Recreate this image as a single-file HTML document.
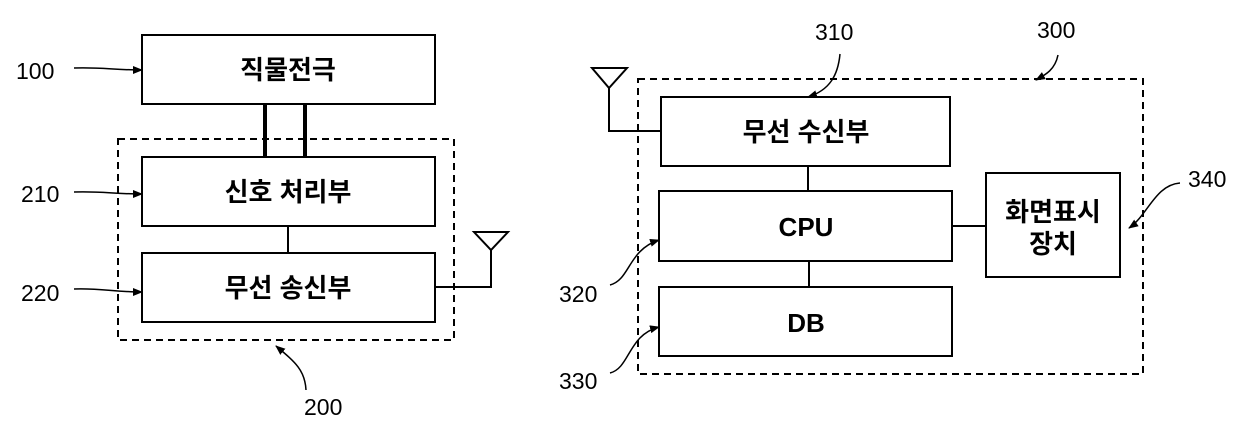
<!DOCTYPE html>
<html><head><meta charset="utf-8"><style>
html,body{margin:0;padding:0;background:#fff;}
svg{display:block;}
.t{font-family:"Liberation Sans","Noto Sans CJK KR",sans-serif;font-weight:bold;font-size:26px;fill:#000;}
.n{font-family:"Liberation Sans","Noto Sans CJK KR",sans-serif;font-size:23px;fill:#000;}
</style></head><body>
<svg width="1239" height="431" viewBox="0 0 1239 431" xmlns="http://www.w3.org/2000/svg">
<defs><marker id="a" markerWidth="10" markerHeight="8" refX="9" refY="4" orient="auto" markerUnits="userSpaceOnUse"><path d="M0,0 L10,4 L0,8 Z" fill="#000"/></marker></defs>
<g fill="none" stroke="#000" stroke-width="2">
<rect x="142" y="35" width="293" height="69"/>
<rect x="142" y="157" width="293" height="69"/>
<rect x="142" y="253" width="293" height="69"/>
<rect x="118" y="139" width="336" height="201" stroke-dasharray="7,5"/>
<line x1="265" y1="104" x2="265" y2="157" stroke-width="4"/>
<line x1="305" y1="104" x2="305" y2="157" stroke-width="4"/>
<line x1="288" y1="226" x2="288" y2="253"/>
<polyline points="435,287 491,287 491,250"/>
<polygon points="474,232 508,232 491,250"/>
<rect x="661" y="97" width="289" height="69"/>
<rect x="659" y="191" width="293" height="70"/>
<rect x="659" y="287" width="293" height="69"/>
<rect x="986" y="173" width="134" height="104"/>
<rect x="638" y="79" width="505" height="295" stroke-dasharray="7,5"/>
<polyline points="609,88 609,131 661,131"/>
<polygon points="592,68 627,68 609,88"/>
<line x1="808" y1="166" x2="808" y2="191"/>
<line x1="809" y1="261" x2="809" y2="287"/>
<line x1="952" y1="226" x2="986" y2="226"/>
<g stroke-width="1.5" marker-end="url(#a)">
<path d="M74,68 C100,67 115,70 142,70"/>
<path d="M74,192 C100,191 115,194 142,194"/>
<path d="M74,289 C100,288 115,292 142,292"/>
<path d="M306,390 C305,370 295,362 276,346"/>
<path d="M840,54 C838,75 830,90 808,97"/>
<path d="M1058,55 C1055,70 1045,75 1036,80"/>
<path d="M1180,183 C1155,185 1148,215 1129,228"/>
<path d="M610,285 C630,280 628,250 659,240"/>
<path d="M610,373 C630,368 628,335 659,327"/>
</g>
</g>
<text class="t" x="288" y="79" text-anchor="middle">직물전극</text>
<text class="t" x="288" y="201" text-anchor="middle">신호 처리부</text>
<text class="t" x="288" y="297" text-anchor="middle">무선 송신부</text>
<text class="t" x="806" y="141" text-anchor="middle">무선 수신부</text>
<text class="t" x="806" y="236" text-anchor="middle">CPU</text>
<text class="t" x="806" y="332" text-anchor="middle">DB</text>
<text class="t" x="1053" y="221" text-anchor="middle">화면표시</text>
<text class="t" x="1053" y="253" text-anchor="middle">장치</text>
<text class="n" x="16" y="79">100</text>
<text class="n" x="21" y="202">210</text>
<text class="n" x="21" y="301">220</text>
<text class="n" x="304" y="415">200</text>
<text class="n" x="815" y="40">310</text>
<text class="n" x="1037" y="38">300</text>
<text class="n" x="1188" y="187">340</text>
<text class="n" x="559" y="302">320</text>
<text class="n" x="559" y="389">330</text>
</svg>
</body></html>
